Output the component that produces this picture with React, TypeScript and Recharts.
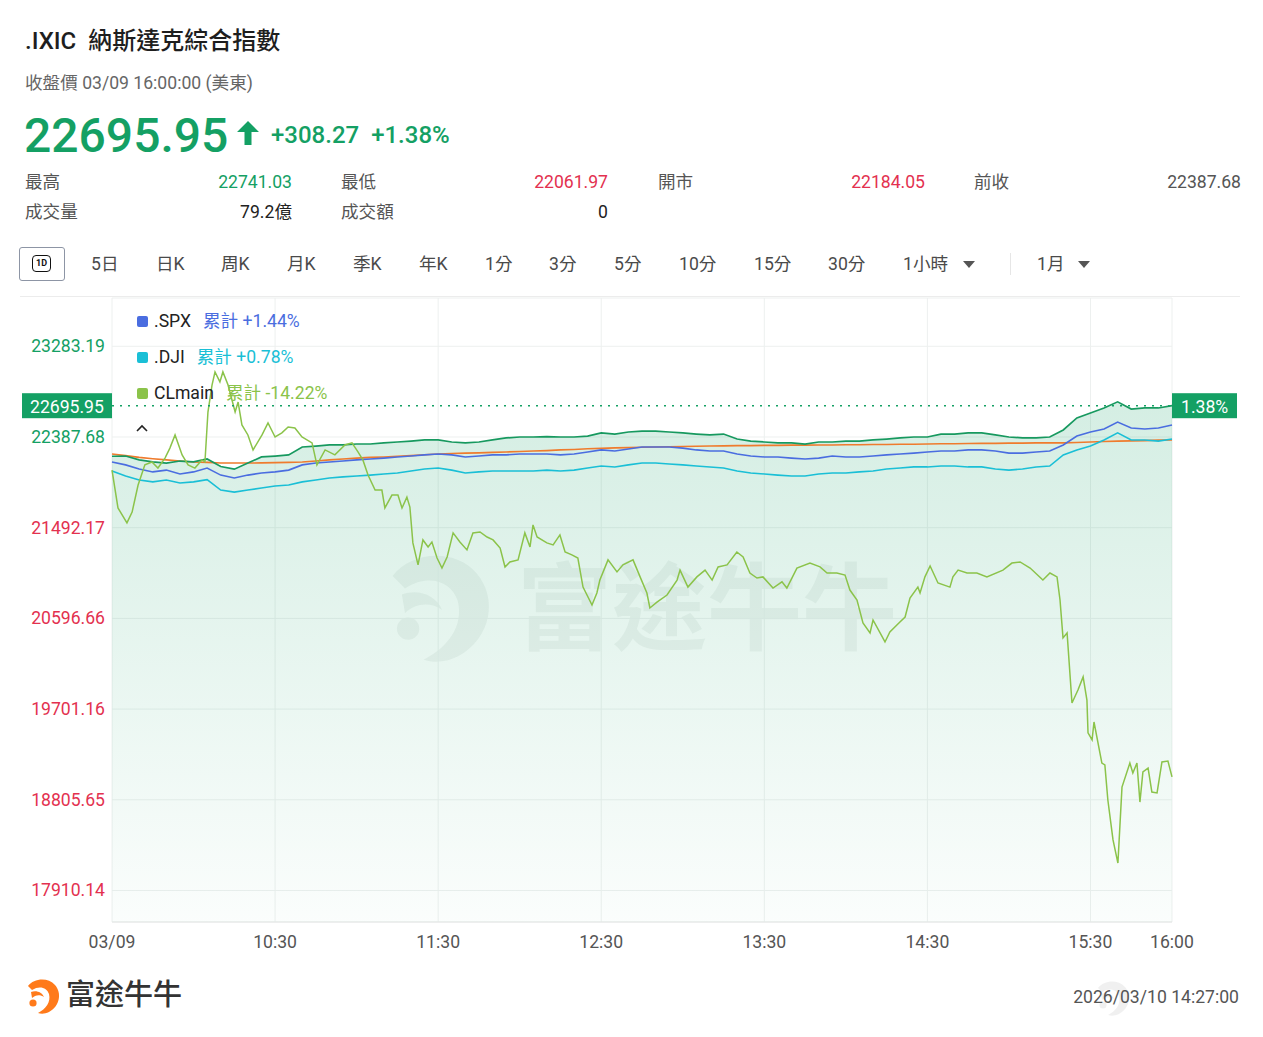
import React from "react";
import { ComposedChart, Area, Line, XAxis, YAxis, CartesianGrid, ReferenceLine } from "recharts";

const FONT = "Roboto, 'Noto Sans CJK TC', 'Noto Sans', sans-serif";
const GREEN = "#14a064";
const RED = "#e3314f";
const IXIC_LINE = "#17995f";
const SPX_COLOR = "#4a6de0";
const DJI_COLOR = "#1abfd6";
const CL_COLOR = "#8bc34a";
const AVG_COLOR = "#ef7b2d";

// 5-minute samples from 09:30 to 16:00, % change vs previous close
const ixicPct = [
  -0.85, -0.84, -1.01, -1.1, -1.15, -1.06, -1.1, -0.97, -1.3, -1.42,
  -1.15, -0.88, -0.84, -0.79, -0.44, -0.4, -0.35, -0.35, -0.31, -0.31,
  -0.26, -0.22, -0.18, -0.13, -0.13, -0.22, -0.26, -0.22, -0.13, -0.04,
  0, 0, 0.02, 0, 0, 0.04, 0.18, 0.13, 0.22, 0.26,
  0.26, 0.22, 0.18, 0.13, 0.09, 0.13, -0.09, -0.18, -0.22, -0.26,
  -0.26, -0.31, -0.22, -0.22, -0.18, -0.18, -0.13, -0.09, -0.04, 0,
  0, 0.13, 0.13, 0.18, 0.18, 0.09, 0, -0.04, -0.04, 0,
  0.31, 0.84, 1.06, 1.28, 1.55, 1.23, 1.28, 1.28, 1.38,
];
const spxPct = [
  -1.1, -1.23, -1.41, -1.54, -1.46, -1.63, -1.54, -1.37, -1.68, -1.81,
  -1.68, -1.59, -1.54, -1.46, -1.23, -1.15, -1.1, -1.06, -1.01, -0.97,
  -0.93, -0.88, -0.84, -0.79, -0.75, -0.79, -0.88, -0.84, -0.79, -0.79,
  -0.75, -0.75, -0.75, -0.79, -0.75, -0.66, -0.57, -0.62, -0.53, -0.44,
  -0.44, -0.44, -0.49, -0.57, -0.62, -0.62, -0.75, -0.84, -0.88, -0.88,
  -0.93, -0.97, -0.93, -0.84, -0.88, -0.88, -0.84, -0.79, -0.75, -0.71,
  -0.66, -0.62, -0.62, -0.57, -0.57, -0.62, -0.71, -0.71, -0.66, -0.62,
  -0.35, 0.04, 0.22, 0.35, 0.66, 0.4, 0.35, 0.4, 0.53,
];
const djiPct = [
  -1.5, -1.72, -1.9, -1.98, -1.9, -2.03, -1.98, -1.88, -2.34, -2.43,
  -2.34, -2.25, -2.16, -2.12, -1.98, -1.9, -1.81, -1.76, -1.72, -1.68,
  -1.63, -1.59, -1.5, -1.41, -1.37, -1.46, -1.59, -1.54, -1.5, -1.5,
  -1.5, -1.5, -1.46, -1.5, -1.46, -1.37, -1.28, -1.32, -1.23, -1.15,
  -1.15, -1.19, -1.23, -1.28, -1.32, -1.37, -1.5, -1.59, -1.63, -1.68,
  -1.72, -1.72, -1.63, -1.59, -1.59, -1.54, -1.5, -1.41, -1.37, -1.32,
  -1.32, -1.28, -1.28, -1.32, -1.32, -1.41, -1.46, -1.41, -1.32, -1.28,
  -0.79, -0.57, -0.4, -0.13, 0.18, -0.13, -0.13, -0.18, -0.09,
];
const avgPct = [
  -0.75, -0.82, -0.9, -0.96, -1.01, -1.06, -1.1, -1.12, -1.15, -1.15,
  -1.15, -1.14, -1.13, -1.12, -1.1, -1.06, -1.01, -0.97, -0.93, -0.9,
  -0.88, -0.85, -0.82, -0.78, -0.75, -0.73, -0.71, -0.7, -0.68, -0.66,
  -0.64, -0.62, -0.6, -0.57, -0.55, -0.52, -0.5, -0.48, -0.47, -0.45,
  -0.44, -0.43, -0.42, -0.41, -0.4, -0.39, -0.38, -0.38, -0.37, -0.37,
  -0.36, -0.36, -0.35, -0.35, -0.34, -0.34, -0.33, -0.33, -0.32, -0.32,
  -0.31, -0.3, -0.3, -0.29, -0.28, -0.28, -0.27, -0.27, -0.26, -0.26,
  -0.26, -0.24, -0.22, -0.2, -0.18, -0.17, -0.16, -0.14, -0.13,
];

// CLmain, denser samples: minutes after 09:30 and % on the same scale
const clMinutes = [
  0, 2.2, 5.5, 7.4, 9.6, 12.1, 14.7, 16.9, 19.5, 21.3,
  23.2, 25.8, 28.0, 30.5, 33.1, 34.2, 35.3, 36.8, 37.9, 39.7,
  40.8, 42.7, 45.3, 46.4, 47.8, 50.0, 51.9, 55.2, 57.4, 60.0,
  62.5, 64.8, 67.3, 69.9, 73.6, 75.4, 78.4, 82.0, 85.7, 88.3,
  90.5, 92.3, 94.2, 96.8, 99.3, 100.4, 103.0, 105.2, 106.7, 108.5,
  109.6, 110.7, 112.6, 114.4, 116.3, 117.7, 119.6, 121.4, 123.3, 125.5,
  128.0, 130.6, 132.8, 135.4, 138.0, 140.2, 142.8, 144.6, 146.4, 149.4,
  151.9, 153.8, 154.9, 156.4, 160.0, 162.3, 164.8, 166.7, 169.2, 171.4,
  173.3, 176.6, 178.4, 179.5, 182.5, 185.8, 188.0, 191.7, 194.3, 196.8,
  197.9, 200.5, 204.2, 207.9, 209.0, 211.9, 215.2, 218.2, 220.8, 223.0,
  226.3, 229.9, 232.2, 234.7, 237.3, 239.5, 243.2, 246.5, 248.3, 252.0,
  256.8, 260.5, 263.1, 266.7, 269.7, 271.5, 274.1, 276.3, 278.9, 280.0,
  282.6, 284.4, 286.2, 289.9, 291.8, 293.6, 296.5, 297.3, 299.1, 301.0,
  303.9, 308.3, 309.4, 311.3, 314.6, 318.2, 321.9, 327.8, 331.1, 334.1,
  337.8, 342.5, 345.1, 347.7, 348.8, 349.9, 351.4, 353.2, 355.4, 357.3,
  358.7, 359.1, 360.6, 361.3, 364.2, 365.3, 366.4, 368.3, 370.1, 371.6,
  374.5, 375.6, 377.1, 378.2, 379.3, 381.2, 382.6, 384.5, 386.3, 388.5,
  390,
];
const clPct = [
  -1.46, -3.13, -3.79, -3.31, -2.12, -1.23, -1.1, -1.37, -0.93, -0.49,
  0.09, -0.79, -1.23, -1.37, -1.01, -1.1, 1.1, 2.29, 2.87, 2.43,
  2.87, 2.29, 1.1, 1.54, 0.53, 0.09, -0.57, 0.09, 0.62, 0,
  0.18, 0.44, 0.4, 0, -0.26, -1.23, -0.57, -0.79, -0.35, -0.26,
  -0.66, -1.01, -1.68, -2.34, -2.34, -3.13, -2.56, -2.56, -3.13, -2.65,
  -3.09, -4.67, -5.64, -4.54, -4.85, -4.63, -5.34, -5.78, -5.29, -4.23,
  -4.63, -4.98, -4.23, -4.19, -4.41, -4.54, -4.9, -5.73, -5.51, -5.42,
  -4.23, -4.85, -3.88, -4.41, -4.67, -4.76, -4.32, -5.07, -5.2, -5.34,
  -6.62, -7.41, -6.88, -6.31, -5.42, -5.95, -5.64, -5.42, -6.17, -6.88,
  -7.54, -7.28, -6.97, -6.31, -5.87, -6.62, -6.17, -5.87, -6.31, -5.73,
  -5.64, -5.07, -5.29, -6.0, -6.22, -6.17, -6.66, -6.39, -6.66, -5.78,
  -5.56, -5.73, -6.0, -6.0, -6.09, -6.75, -7.19, -8.2, -8.64, -8.07,
  -8.64, -9.04, -8.6, -8.16, -7.94, -7.1, -6.62, -6.88, -6.17, -5.69,
  -6.44, -6.62, -6.17, -5.87, -6.0, -6.0, -6.17, -5.87, -5.56, -5.51,
  -5.78, -6.31, -6.0, -6.17, -7.19, -8.86, -8.64, -11.73, -11.16, -10.58,
  -11.6, -13.05, -13.36, -12.57, -14.38, -14.46, -16.01, -17.77, -18.79, -15.44,
  -14.38, -14.82, -14.38, -16.1, -14.77, -14.6, -15.66, -15.7, -14.33, -14.29,
  -14.99,
];

const yTicks = [-20, -16, -12, -8, -4, 0, 4];
const leftTickLabels = ["17910.14", "18805.65", "19701.16", "20596.66", "21492.17", "22387.68", "23283.19"];
const rightTickLabels = ["-20.00%", "-16.00%", "-12.00%", "-8.00%", "-4.00%", "0.00%", "4.00%"];
const xTicks = [0, 60, 120, 180, 240, 300, 360, 390];
const xTickLabels = ["03/09", "10:30", "11:30", "12:30", "13:30", "14:30", "15:30", "16:00"];

const lastPct = 1.38;
const lastPrice = "22695.95";

const legendNames = [".SPX", ".DJI", "CLmain"];
const legendTotals = ["累計 +1.44%", "累計 +0.78%", "累計 -14.22%"];
const legendColors = [SPX_COLOR, DJI_COLOR, CL_COLOR];

const statLabels = ["最高", "最低", "開市", "前收", "成交量", "成交額"];
const statValues = ["22741.03", "22061.97", "22184.05", "22387.68", "79.2億", "0"];
const statColors = [GREEN, RED, RED, "#555", "#222", "#222"];

const tabLabels = ["5日", "日K", "周K", "月K", "季K", "年K", "1分", "3分", "5分", "10分", "15分", "30分", "1小時", "1月"];
const tabX = [91, 156, 221, 287, 353, 419, 485, 549, 614, 679, 754, 828, 903, 1037];

const mainRows = ixicPct.map((v, i) => ({ t: i * 5, ixic: v, spx: spxPct[i], dji: djiPct[i], avg: avgPct[i] }));
const clRows = clMinutes.map((t, i) => ({ t, cl: clPct[i] }));

function LeftTick({ x, y, payload }: any) {
  const i = yTicks.indexOf(payload.value);
  return (
    <text x={x} y={y} textAnchor="end" dominantBaseline="central" fontSize={17.6} fontFamily={FONT} fill={payload.value >= 0 ? GREEN : RED}>
      {leftTickLabels[i]}
    </text>
  );
}

function RightTick({ x, y, payload }: any) {
  const i = yTicks.indexOf(payload.value);
  return (
    <text x={x} y={y} textAnchor="start" dominantBaseline="central" fontSize={17.6} fontFamily={FONT} fill={payload.value >= 0 ? GREEN : RED}>
      {rightTickLabels[i]}
    </text>
  );
}

function BottomTick({ x, y, payload }: any) {
  const i = xTicks.indexOf(payload.value);
  return (
    <text x={x} y={y + 20} textAnchor="middle" dominantBaseline="central" fontSize={17.6} fontFamily={FONT} fill="#555">
      {xTickLabels[i]}
    </text>
  );
}

function PriceTags(props: any) {
  const vb = props.viewBox || {};
  const x = vb.x ?? 0;
  const y = vb.y ?? 0;
  const w = vb.width ?? 0;
  return (
    <g fontFamily={FONT}>
      <rect x={x - 90} y={y - 12.5} width={90} height={25} fill={GREEN} />
      <text x={x - 82} y={y + 1} dominantBaseline="central" fill="#fff" fontSize={17.6}>{lastPrice}</text>
      <rect x={x + w} y={y - 12.5} width={65} height={25} fill={GREEN} />
      <text x={x + w + 9} y={y + 1} dominantBaseline="central" fill="#fff" fontSize={17.6}>{lastPct.toFixed(2)}%</text>
    </g>
  );
}

function Swoosh({ color }: { color: string }) {
  // stylised company mark, drawn in a 40x40 box
  return (
    <g>
      <path d="M6 10 C12 2 26 1 33 9 C40 17 38 30 27 36 C23 38 19 38 16 37 C24 33 29 26 27 18 C25 12 18 9 10 14 Z" fill={color} />
      <path d="M9 16 C14 14 20 16 22 21 C18 18 13 19 10 22 Z" fill={color} />
      <circle cx={11} cy={27} r={3.6} fill={color} />
    </g>
  );
}

const abs = (left: number, cy: number, lh: number): React.CSSProperties => ({
  position: "absolute", left, top: cy - lh / 2, lineHeight: `${lh}px`, whiteSpace: "nowrap",
});
const absR = (right: number, cy: number, lh: number): React.CSSProperties => ({
  position: "absolute", right: 1263 - right, top: cy - lh / 2, lineHeight: `${lh}px`, whiteSpace: "nowrap", textAlign: "right",
});

export default function App() {
  const statLeft = [25, 341, 658, 974, 25, 341];
  const statRight = [292, 608, 925, 1241, 292, 608];
  return (
    <div style={{ position: "absolute", left: 0, top: 0, width: 1263, height: 1037, background: "#fff", fontFamily: FONT, overflow: "hidden" }}>
      <div style={{ ...abs(25, 41, 30), fontSize: 24, fontWeight: 500, color: "#1e1e1e" }}>.IXIC&nbsp;&nbsp;納斯達克綜合指數</div>
      <div style={{ ...abs(25, 83, 22), fontSize: 17.6, color: "#666" }}>收盤價 03/09 16:00:00 (美東)</div>
      <div style={{ ...abs(24, 136, 56), fontSize: 48, fontWeight: 500, color: GREEN }}>{lastPrice}</div>
      <svg style={{ position: "absolute", left: 236, top: 120 }} width={24} height={26}>
        <path d="M12 1 L23 12 L15.5 12 L15.5 25 L8.5 25 L8.5 12 L1 12 Z" fill={GREEN} />
      </svg>
      <div style={{ ...abs(271, 135, 28), fontSize: 24, fontWeight: 500, color: GREEN }}>+308.27&nbsp;&nbsp;+1.38%</div>

      {statLabels.map((s, i) => (
        <React.Fragment key={s}>
          <div style={{ ...abs(statLeft[i], i < 4 ? 182 : 212, 22), fontSize: 17.6, color: "#555" }}>{s}</div>
          <div style={{ ...absR(statRight[i], i < 4 ? 182 : 212, 22), fontSize: 17.6, color: statColors[i] }}>{statValues[i]}</div>
        </React.Fragment>
      ))}

      <div style={{ position: "absolute", left: 19, top: 247, width: 44, height: 32, border: "1px solid #8d95a5", borderRadius: 3 }}>
        <div style={{ position: "absolute", left: 12, top: 7, width: 17, height: 15, border: "1.6px solid #111", borderRadius: 4, fontSize: 9, fontWeight: 700, lineHeight: "15px", textAlign: "center", color: "#111" }}>1D</div>
      </div>
      {tabLabels.map((s, i) => (
        <div key={s} style={{ ...abs(tabX[i], 264, 22), fontSize: 17.6, color: "#4a4a4a" }}>{s}</div>
      ))}
      <svg style={{ position: "absolute", left: 962, top: 260 }} width={14} height={9}>
        <path d="M1 1 L13 1 L7 8 Z" fill="#555" />
      </svg>
      <div style={{ position: "absolute", left: 1010, top: 253, width: 1, height: 22, background: "#e6e6e6" }} />
      <svg style={{ position: "absolute", left: 1077, top: 260 }} width={14} height={9}>
        <path d="M1 1 L13 1 L7 8 Z" fill="#555" />
      </svg>
      <div style={{ position: "absolute", left: 20, top: 296, width: 1220, height: 1, background: "#ececec" }} />

      {/* watermark inside plot */}
      <svg style={{ position: "absolute", left: 372, top: 545 }} width={540} height={130}>
        <g transform="translate(2,0) scale(3.1)">
          <Swoosh color="rgba(60,90,80,0.065)" />
        </g>
        <text x={145} y={98} fontSize={95} fontFamily={FONT} fill="rgba(60,90,80,0.065)" fontWeight={700}>富途牛牛</text>
      </svg>

      <div style={{ position: "absolute", left: 0, top: 290 }}>
        <ComposedChart width={1263} height={700} data={mainRows} margin={{ top: 8, right: 0, left: 0, bottom: 0 }} style={{ fontFamily: FONT }}>
          <defs>
            <linearGradient id="ixicFill" x1="0" y1="0" x2="0" y2="1">
              <stop offset="0%" stopColor="#13a065" stopOpacity={0.3} />
              <stop offset="100%" stopColor="#13a065" stopOpacity={0.03} />
            </linearGradient>
          </defs>
          <CartesianGrid yAxisId="left" stroke="#edf0ef" />
          <XAxis dataKey="t" type="number" domain={[0, 390]} ticks={xTicks} height={68} axisLine={{ stroke: "#e3e6e5" }} tickLine={false} tickSize={0} tickMargin={0} tick={<BottomTick />} />
          <YAxis yAxisId="left" orientation="left" type="number" domain={[-21.39, 6.13]} ticks={yTicks} width={112} axisLine={false} tickLine={false} tickSize={0} tickMargin={7} tick={<LeftTick />} />
          <YAxis yAxisId="right" orientation="right" type="number" domain={[-21.39, 6.13]} ticks={yTicks} width={91} axisLine={false} tickLine={false} tickSize={0} tickMargin={9} tick={<RightTick />} />
          <Area yAxisId="left" type="linear" dataKey="ixic" stroke="none" fill="url(#ixicFill)" baseValue="dataMin" isAnimationActive={false} dot={false} activeDot={false} />
          <Line yAxisId="left" type="linear" dataKey="avg" stroke={AVG_COLOR} strokeWidth={1.6} dot={false} isAnimationActive={false} />
          <Line yAxisId="left" type="linear" dataKey="dji" stroke={DJI_COLOR} strokeWidth={1.6} dot={false} isAnimationActive={false} />
          <Line yAxisId="left" type="linear" dataKey="spx" stroke={SPX_COLOR} strokeWidth={1.6} dot={false} isAnimationActive={false} />
          <Line yAxisId="left" type="linear" dataKey="ixic" stroke={IXIC_LINE} strokeWidth={1.7} dot={false} isAnimationActive={false} />
          <Line yAxisId="left" type="linear" data={clRows} dataKey="cl" stroke={CL_COLOR} strokeWidth={1.5} dot={false} isAnimationActive={false} />
          <ReferenceLine yAxisId="left" y={lastPct} stroke={GREEN} strokeDasharray="2 6" strokeWidth={1.5} label={<PriceTags />} />
        </ComposedChart>
      </div>

      {/* legend */}
      {legendNames.map((n, i) => (
        <React.Fragment key={n}>
          <div style={{ position: "absolute", left: 137, top: 316 + i * 36, width: 11, height: 11, borderRadius: 2, background: legendColors[i] }} />
          <div style={{ ...abs(154, 321 + i * 36, 22), fontSize: 17.6, color: "#222" }}>
            {n}
            <span style={{ color: legendColors[i], marginLeft: 12 }}>{legendTotals[i]}</span>
          </div>
        </React.Fragment>
      ))}
      <svg style={{ position: "absolute", left: 135, top: 423 }} width={14} height={10}>
        <polyline points="2,8 7,3 12,8" fill="none" stroke="#222" strokeWidth={1.6} />
      </svg>

      {/* footer */}
      <svg style={{ position: "absolute", left: 22, top: 976 }} width={40} height={40}>
        <Swoosh color="#ff7a1a" />
      </svg>
      <svg style={{ position: "absolute", left: 1092, top: 978 }} width={40} height={40}>
        <Swoosh color="rgba(0,0,0,0.06)" />
      </svg>
      <div style={{ ...abs(66, 995, 36), fontSize: 29, fontWeight: 500, color: "#333" }}>富途牛牛</div>
      <div style={{ ...absR(1239, 997, 22), fontSize: 17.6, color: "#555" }}>2026/03/10 14:27:00</div>
    </div>
  );
}
